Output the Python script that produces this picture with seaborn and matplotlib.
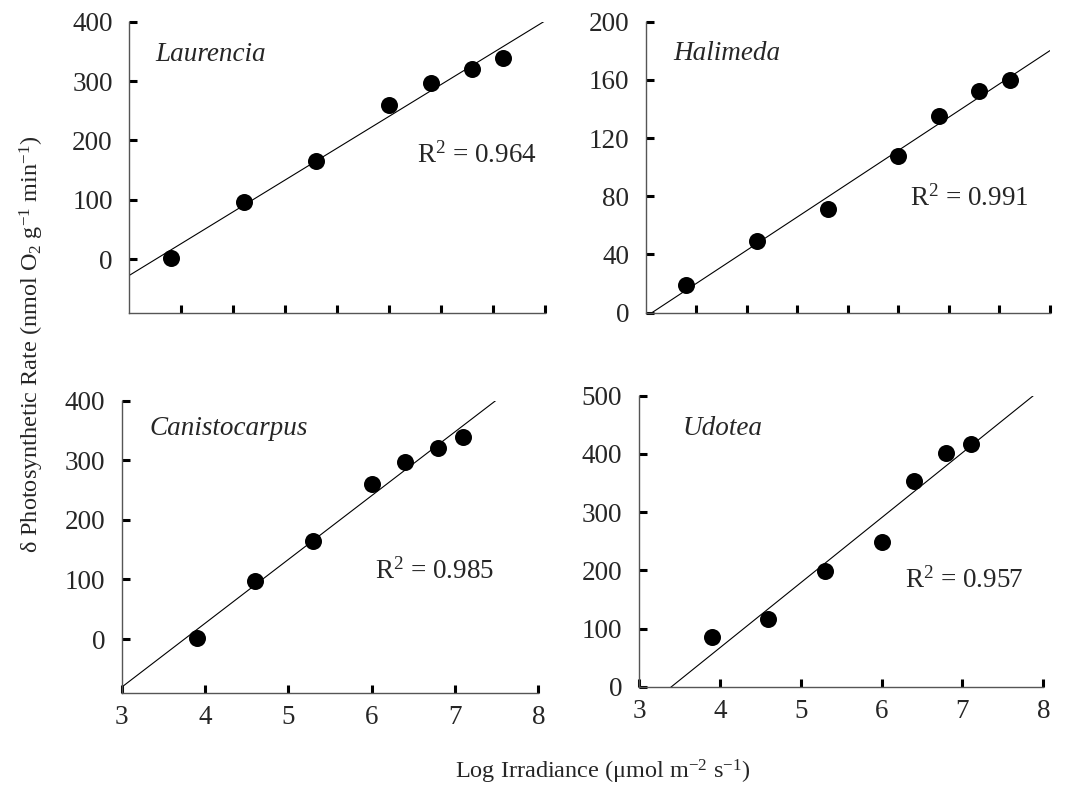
import numpy as np
import pandas as pd
import matplotlib
matplotlib.use("Agg")
import matplotlib.pyplot as plt
import seaborn as sns

# values
log_irradiance = [3.9, 4.6, 5.3, 6.0, 6.4, 6.8, 7.1]
laurencia = [2, 97, 165, 260, 297, 321, 339]
halimeda = [19, 49, 71, 108, 135, 152, 160]
canistocarpus = [2, 97, 165, 260, 297, 321, 339]
udotea = [86, 116, 198, 248, 354, 401, 417]

species = ["Laurencia", "Halimeda", "Canistocarpus", "Udotea"]
rates = [laurencia, halimeda, canistocarpus, udotea]
r2_labels = ["0.964", "0.991", "0.985", "0.957"]

y_ticks = [
    [0, 100, 200, 300, 400],
    [0, 40, 80, 120, 160, 200],
    [0, 100, 200, 300, 400],
    [0, 100, 200, 300, 400, 500],
]
top_x_ticks = [4.0, 4.5, 5.0, 5.5, 6.0, 6.5, 7.0, 7.5]
bottom_x_ticks = [3, 4, 5, 6, 7, 8]

sns.set_style("white", {"xtick.bottom": True, "ytick.left": True})
plt.rcParams["font.family"] = ["Liberation Serif", "DejaVu Serif"]
plt.rcParams["mathtext.fontset"] = "custom"
plt.rcParams["mathtext.rm"] = "Liberation Serif"
plt.rcParams["mathtext.it"] = "Liberation Serif:italic"

FONT = 19.5
LABEL_FONT = 17.5
SPINE_COLOR = "#555555"

fig = plt.figure(figsize=(10.77, 7.96), dpi=100)

# [left, bottom, width, height], ylim, xlim, span of fit line, name pos, r2 pos
panels = [
    dict(rect=[0.1201, 0.6072, 0.3860, 0.3656], ylim=(-90, 400), xlim=(3.5, 7.5),
         span=(3.0, 7.5), name_pos=(0.062, 0.886), r2_pos=(0.691, 0.542), bottom=False),
    dict(rect=[0.5998, 0.6072, 0.3751, 0.3656], ylim=(0, 200), xlim=(3.5, 7.5),
         span=(3.0, 7.5), name_pos=(0.068, 0.891), r2_pos=(0.653, 0.393), bottom=False),
    dict(rect=[0.1130, 0.1298, 0.3868, 0.3668], ylim=(-90, 400), xlim=(3, 8),
         span=(3.0, 7.5), name_pos=(0.066, 0.905), r2_pos=(0.608, 0.414), bottom=True),
    dict(rect=[0.5933, 0.1373, 0.3754, 0.3656], ylim=(0, 500), xlim=(3, 8),
         span=(3.0, 8.0), name_pos=(0.108, 0.888), r2_pos=(0.658, 0.367), bottom=True),
]

for i, p in enumerate(panels):
    ax = fig.add_axes(p["rect"])
    df = pd.DataFrame({"x": log_irradiance, "y": rates[i]})

    # linear trendline over its own span, then the actual limits
    ax.set_xlim(*p["span"])
    sns.regplot(data=df, x="x", y="y", ax=ax, scatter=False, ci=None,
                truncate=False, color="black", line_kws={"linewidth": 0.8})
    sns.scatterplot(data=df, x="x", y="y", ax=ax, color="black", s=150,
                    edgecolor="black", linewidth=0, zorder=3)

    ax.set_xlim(*p["xlim"])
    ax.set_ylim(*p["ylim"])
    ax.set_yticks(y_ticks[i])
    ax.set_yticklabels([str(t) for t in y_ticks[i]], fontsize=FONT)
    if p["bottom"]:
        ax.set_xticks(bottom_x_ticks)
        ax.set_xticklabels([str(t) for t in bottom_x_ticks], fontsize=FONT)
    else:
        ax.set_xticks(top_x_ticks)
        ax.set_xticklabels([])
    ax.set_xlabel("")
    ax.set_ylabel("")

    sns.despine(ax=ax)
    for side in ["left", "bottom"]:
        ax.spines[side].set_color(SPINE_COLOR)
        ax.spines[side].set_linewidth(1.0)
    ax.tick_params(axis="both", direction="in", length=6, width=2.2,
                   color="black", pad=9, labelsize=FONT, bottom=True, left=True)
    ax.tick_params(axis="y", pad=12)

    ax.text(p["name_pos"][0], p["name_pos"][1], species[i], transform=ax.transAxes,
            fontsize=FONT, style="italic", ha="left", va="center")
    ax.text(p["r2_pos"][0], p["r2_pos"][1], "R$^2$ = " + r2_labels[i],
            transform=ax.transAxes, fontsize=FONT, ha="left", va="center")

fig.text(0.560, 0.030, r"Log Irradiance ($\mathrm{\mu}$mol m$^{-2}$ s$^{-1}$)",
         ha="center", va="center", fontsize=LABEL_FONT)
fig.text(0.030, 0.567, r"δ Photosynthetic Rate (nmol O$_2$ g$^{-1}$ min$^{-1}$)",
         ha="center", va="center", rotation=90, fontsize=LABEL_FONT)

fig.savefig("out.png", dpi=100, facecolor="white")
